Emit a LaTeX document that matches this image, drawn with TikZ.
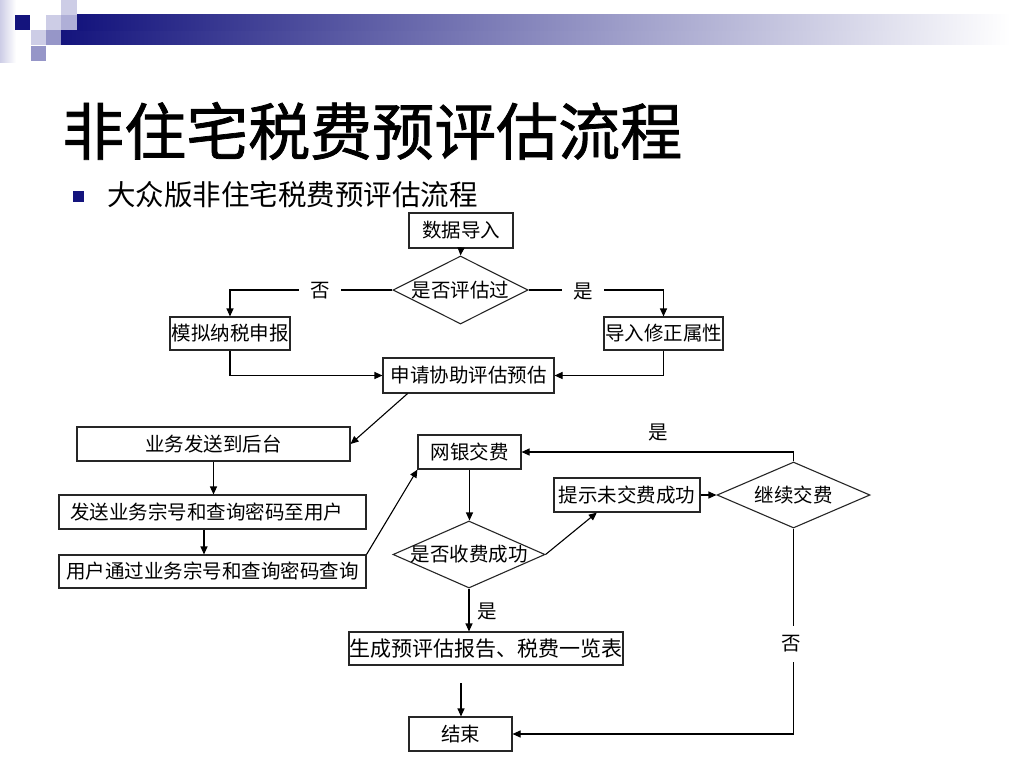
\documentclass[tikz,border=0pt]{standalone}
\usepackage{fontspec}
\setmainfont{Noto Sans CJK SC}
\newfontfamily\titlefont{Noto Sans CJK SC}[FakeBold=1.2]
\usetikzlibrary{shapes.geometric,arrows.meta,calc}
\definecolor{navy}{RGB}{20,20,125}
\definecolor{lav}{RGB}{205,205,230}
\definecolor{lavmid}{RGB}{150,150,200}
\definecolor{lavmid2}{RGB}{175,175,215}
\begin{document}
\begin{tikzpicture}[x=1pt,y=-1pt,
  boxn/.style={draw=black!85, line width=1.1pt, inner sep=0pt, font=\fontsize{19.5}{22}\selectfont},
  dia/.style={draw=black!85, line width=1.1pt, shape=diamond, inner sep=0pt, font=\fontsize{19.5}{22}\selectfont},
  conn/.style={line width=1.1pt, draw=black},
  arr/.style={conn, -{Triangle[length=8pt,width=7pt]}},
  lbl/.style={font=\fontsize{19.5}{22}\selectfont, inner sep=0pt},
  gaplbl/.style={lbl, fill=white, inner xsep=11pt, inner ysep=10pt}]
\useasboundingbox (0,0) rectangle (1024,768);
\fill[white] (0,0) rectangle (1024,768);
% decoration
\shade[left color=lav, right color=white] (0,0) rectangle (16,62);
\shade[left color=navy, right color=white] (61,30) rectangle (1010,45);
\shade[left color=navy, right color=white] (77,15) rectangle (1010,30.2);
\fill[navy] (15,15) rectangle (30,30);
\fill[lav] (46,15) rectangle (61,30);
\fill[lavmid2] (61,15) rectangle (77,30);
\fill[lav] (61,0) rectangle (77,15);
\fill[lav] (31,30) rectangle (46,45);
\fill[lavmid] (46,30) rectangle (61,45);
\fill[lavmid] (31,46) rectangle (46,61);
% title
\node[anchor=west, inner sep=0pt, font=\fontsize{62}{70}\titlefont] (title) at (62,131) {非住宅税费预评估流程};
\node[fill=navy, minimum size=11pt, inner sep=0pt] (bullet) at (78,196.5) {};
\node[anchor=west, inner sep=0pt, font=\fontsize{28.5}{32}\selectfont] (sub) at (107,195) {大众版非住宅税费预评估流程};
% nodes
\node[boxn, minimum width=104pt, minimum height=35pt] (n1) at (461,230.5) {数据导入};
\node[dia, minimum width=135pt, minimum height=68pt] (d1) at (460.5,290) {\makebox[0pt]{是否评估过}};
\node[boxn, minimum width=120pt, minimum height=33pt] (mn) at (230,333.5) {模拟纳税申报};
\node[boxn, minimum width=119pt, minimum height=33pt] (dr) at (663.5,333.5) {导入修正属性};
\node[boxn, minimum width=171pt, minimum height=35pt] (sq) at (468.5,375.5) {申请协助评估预估};
\node[boxn, minimum width=273pt, minimum height=34pt] (yw) at (213.5,444) {业务发送到后台};
\node[boxn, minimum width=307pt, minimum height=34pt] (fs) at (212.5,512) {\hspace*{-12pt}发送业务宗号和查询密码至用户};
\node[boxn, minimum width=307pt, minimum height=33pt] (us) at (212.5,571.5) {用户通过业务宗号和查询密码查询};
\node[boxn, minimum width=103pt, minimum height=34pt] (bk) at (469.5,452) {网银交费};
\node[dia, minimum width=152pt, minimum height=67pt] (d2) at (469,554.5) {\makebox[0pt]{是否收费成功}};
\node[boxn, minimum width=146pt, minimum height=34pt] (ts) at (627,495) {提示未交费成功};
\node[dia, minimum width=153pt, minimum height=66pt] (d3) at (793.5,495) {\makebox[0pt]{继续交费}};
\node[boxn, minimum width=274pt, minimum height=33pt, font=\fontsize{21}{24}\selectfont] (sc) at (486,648.5) {生成预评估报告、税费一览表};
\node[boxn, minimum width=103pt, minimum height=34pt] (js) at (460.5,734) {结束};
% connectors
\draw[arr] (n1.south) -- (d1.north);
\draw[arr] (d1.west) -| (mn.north);
\draw[arr] (d1.east) -| (dr.north);
\node[gaplbl] (l1) at (320,291) {否};
\node[gaplbl] (l2) at (583,291) {是};
\draw[arr] (mn.south) |- (sq.west);
\draw[arr] (dr.south) |- (sq.east);
\coordinate (sqs) at ($(sq.south west)!0.146!(sq.south east)$);
\draw[arr] (sqs) -- (yw.east);
\draw[arr] (yw.south) -- (yw.south |- fs.north);
\coordinate (fss) at ($(fs.south)+(-8.5,0)$);
\draw[arr] (fss) -- (fss |- us.north);
\draw[arr] (us.north east) -- (bk.south west);
\draw[arr] (bk.south) -- (bk.south |- d2.north);
\coordinate (tss) at ($(ts.south west)!0.295!(ts.south east)$);
\draw[arr] (d2.east) -- (tss);
\draw[arr] (ts.east) -- (d3.west);
\draw[arr] (d3.north) |- (bk.east);
\node[lbl] (l3) at (658,432) {是};
\draw[arr] (d2.south) -- (d2.south |- sc.north);
\node[lbl] (l4) at (487,611) {是};
\coordinate (g1) at (461,683);
\draw[arr] (g1) -- (g1 |- js.north);
\draw[arr] (d3.south) |- (js.east);
\node[gaplbl, inner xsep=4pt] (l5) at (791,644) {否};
\end{tikzpicture}
\end{document}
